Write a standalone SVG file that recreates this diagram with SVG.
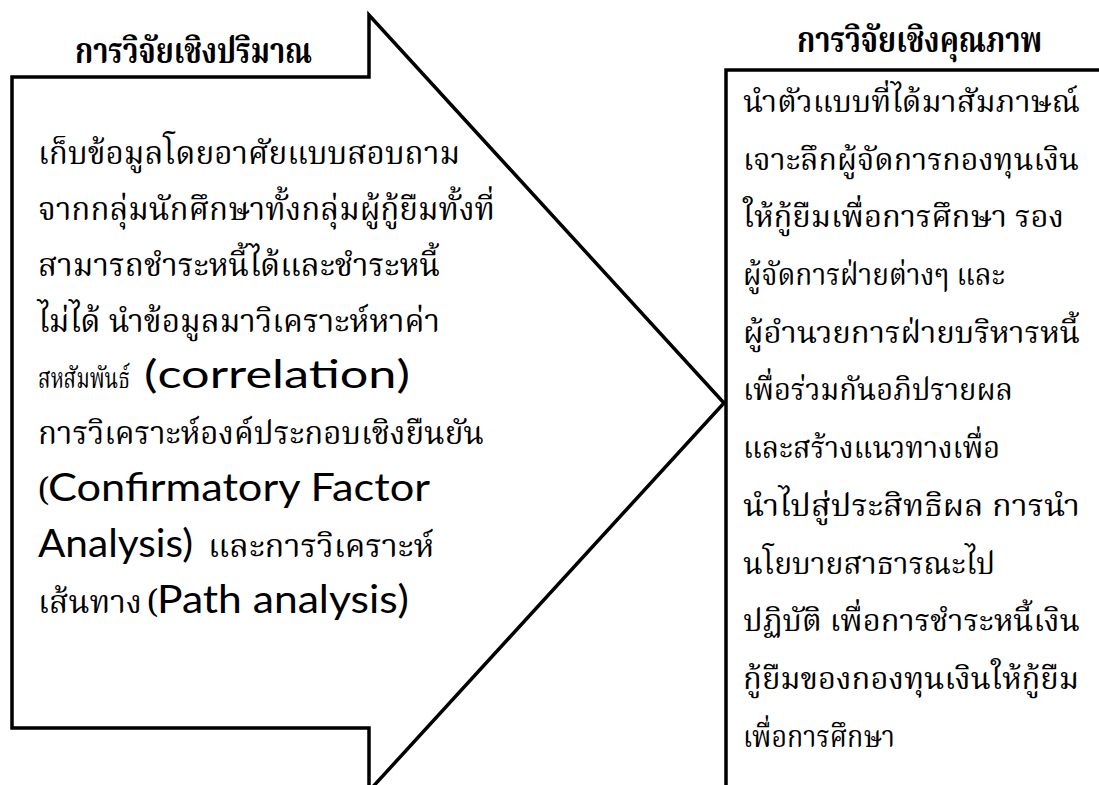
<svg xmlns="http://www.w3.org/2000/svg" width="1099" height="785" viewBox="0 0 1099 785">
<style>
.shape{fill:#fff;stroke:#000;stroke-width:3.5;stroke-linejoin:miter}
.th{font-family:"Noto Serif Thai","Liberation Serif","DejaVu Serif",serif;font-size:32px;fill:#000}
.thr{font-family:"Noto Serif Thai","Liberation Serif","DejaVu Serif",serif;font-size:30px;fill:#000}
.en{font-family:Lato,"Open Sans",sans-serif;font-size:39px;fill:#000}
.title{font-family:"Noto Serif Thai","Liberation Serif","DejaVu Serif",serif;font-size:35px;font-weight:bold;fill:#000}
</style>
<rect width="1099" height="785" fill="#fff"/>
<g id="connectors"></g>
<g id="quantitative">
<polygon class="shape" points="12,77 369,77 369,15 724,403 369,791 369,728 12,728"/>
<text class="title" x="75" y="63" textLength="237" lengthAdjust="spacingAndGlyphs">การวิจัยเชิงปริมาณ</text>
<text class="th" x="38" y="164" textLength="422" lengthAdjust="spacingAndGlyphs">เก็บข้อมูลโดยอาศัยแบบสอบถาม</text>
<text class="th" x="38" y="220" textLength="457" lengthAdjust="spacingAndGlyphs">จากกลุ่มนักศึกษาทั้งกลุ่มผู้กู้ยืมทั้งที่</text>
<text class="th" x="38" y="276" textLength="402" lengthAdjust="spacingAndGlyphs">สามารถชำระหนี้ได้และชำระหนี้</text>
<text class="th" x="38" y="332" textLength="402" lengthAdjust="spacingAndGlyphs">ไม่ได้ นำข้อมูลมาวิเคราะห์หาค่า</text>
<text class="th" x="38" y="388"><tspan font-size="28" textLength="92" lengthAdjust="spacingAndGlyphs">สหสัมพันธ์</tspan><tspan class="en" x="144" textLength="266" lengthAdjust="spacingAndGlyphs">(correlation)</tspan></text>
<text class="th" x="38" y="444" textLength="446" lengthAdjust="spacingAndGlyphs">การวิเคราะห์องค์ประกอบเชิงยืนยัน</text>
<text class="th" x="38" y="501"><tspan>(</tspan><tspan class="en" x="48" textLength="382" lengthAdjust="spacingAndGlyphs">Confirmatory Factor</tspan></text>
<text class="en" x="38" y="557"><tspan textLength="155" lengthAdjust="spacingAndGlyphs">Analysis)</tspan><tspan class="th" x="208" textLength="226" lengthAdjust="spacingAndGlyphs">และการวิเคราะห์</tspan></text>
<text class="th" x="38" y="613"><tspan textLength="104" lengthAdjust="spacingAndGlyphs">เส้นทาง</tspan><tspan x="147">(</tspan><tspan class="en" x="157" textLength="252" lengthAdjust="spacingAndGlyphs">Path analysis)</tspan></text>
</g>
<g id="qualitative">
<path class="shape" d="M1102,70 H726 V790"/>
<text class="title" x="797" y="52" textLength="245" lengthAdjust="spacingAndGlyphs">การวิจัยเชิงคุณภาพ</text>
<text class="thr" x="743" y="112" textLength="337" lengthAdjust="spacingAndGlyphs">นำตัวแบบที่ได้มาสัมภาษณ์</text>
<text class="thr" x="743" y="170" textLength="336" lengthAdjust="spacingAndGlyphs">เจาะลึกผู้จัดการกองทุนเงิน</text>
<text class="thr" x="743" y="227" textLength="321" lengthAdjust="spacingAndGlyphs">ให้กู้ยืมเพื่อการศึกษา รอง</text>
<text class="thr" x="743" y="285" textLength="262" lengthAdjust="spacingAndGlyphs">ผู้จัดการฝ่ายต่างๆ และ</text>
<text class="thr" x="743" y="343" textLength="337" lengthAdjust="spacingAndGlyphs">ผู้อำนวยการฝ่ายบริหารหนี้</text>
<text class="thr" x="743" y="400" textLength="270" lengthAdjust="spacingAndGlyphs">เพื่อร่วมกันอภิปรายผล</text>
<text class="thr" x="743" y="458" textLength="257" lengthAdjust="spacingAndGlyphs">และสร้างแนวทางเพื่อ</text>
<text class="thr" x="743" y="516" textLength="337" lengthAdjust="spacingAndGlyphs">นำไปสู่ประสิทธิผล การนำ</text>
<text class="thr" x="743" y="574" textLength="252" lengthAdjust="spacingAndGlyphs">นโยบายสาธารณะไป</text>
<text class="thr" x="743" y="631" textLength="337" lengthAdjust="spacingAndGlyphs">ปฏิบัติ เพื่อการชำระหนี้เงิน</text>
<text class="thr" x="743" y="689" textLength="336" lengthAdjust="spacingAndGlyphs">กู้ยืมของกองทุนเงินให้กู้ยืม</text>
<text class="thr" x="743" y="747" textLength="152" lengthAdjust="spacingAndGlyphs">เพื่อการศึกษา</text>
</g>
</svg>
